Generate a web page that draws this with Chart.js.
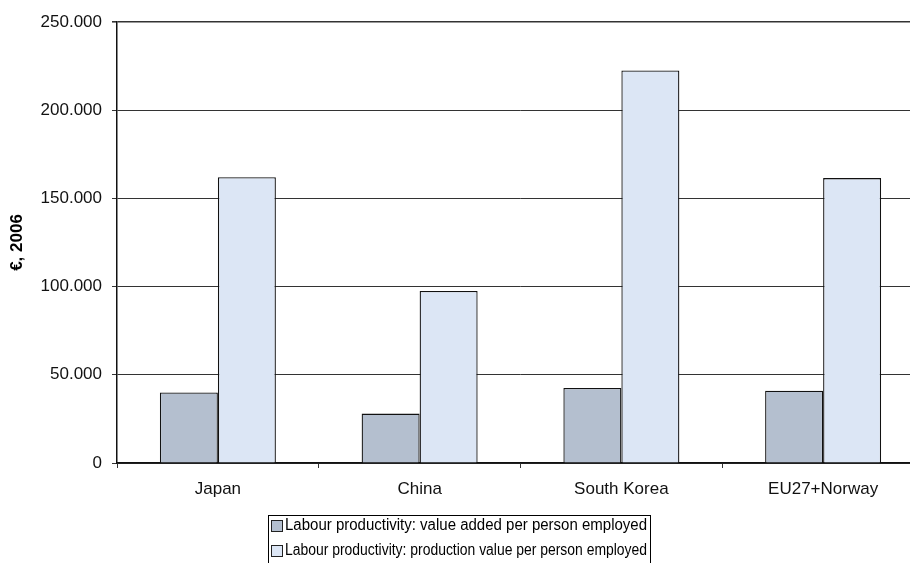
<!DOCTYPE html>
<html>
<head>
<meta charset="utf-8">
<script src="https://cdn.jsdelivr.net/npm/chart.js@4/dist/chart.umd.min.js"></script>
<style>
  html, body { margin: 0; padding: 0; background: #fff; overflow: hidden; }
  #wrap { width: 910px; height: 563px; overflow: hidden; }
</style>
</head>
<body>
<div id="wrap"><canvas id="chart" width="924" height="563"></canvas></div>
<script>
var categories = ["Japan", "China", "South Korea", "EU27+Norway"];
var valueAdded = [40000, 28000, 42500, 41000];
var productionValue = [162000, 97500, 222500, 161500];
var seriesNames = [
    "Labour productivity: value added per person employed",
    "Labour productivity: production value per person employed"
];
var yTicks = [0, 50000, 100000, 150000, 200000, 250000];

Chart.defaults.font.family = "'Liberation Sans', Arial, sans-serif";
Chart.defaults.font.size = 17;
Chart.defaults.color = "#000";

// boxed legend, left aligned like the original
var boxLegend = {
    id: "boxLegend",
    afterDraw: function (chart) {
        var ctx = chart.ctx;
        ctx.save();
        ctx.strokeStyle = "#000";
        ctx.lineWidth = 1;
        ctx.strokeRect(268.5, 515.5, 382, 60);
        ctx.font = "16px 'Liberation Sans', Arial, sans-serif";
        ctx.textBaseline = "middle";
        chart.data.datasets.forEach(function (ds, i) {
            var y = 526 + i * 25;
            ctx.fillStyle = ds.backgroundColor;
            ctx.fillRect(271.5, y - 5.5, 11, 11);
            ctx.strokeStyle = "#222";
            ctx.strokeRect(271.5, y - 5.5, 11, 11);
            ctx.fillStyle = "#000";
            // the original text is condensed so both lines fit the box
            ctx.fillText(ds.label, 285, y, 362);
        });
        ctx.restore();
    }
};

var ctx = document.getElementById("chart");
var myChart = new Chart(ctx, {
    type: "bar",
    data: {
        labels: categories,
        datasets: [
            {
                label: seriesNames[0],
                data: valueAdded,
                backgroundColor: "#b4bfcf",
                borderColor: "#111",
                borderWidth: 1.3,
                categoryPercentage: 0.575,
                barPercentage: 1
            },
            {
                label: seriesNames[1],
                data: productionValue,
                backgroundColor: "#dce6f5",
                borderColor: "#111",
                borderWidth: 1.3,
                categoryPercentage: 0.575,
                barPercentage: 1
            }
        ]
    },
    options: {
        responsive: false,
        animation: false,
        layout: { padding: { top: 22, left: 0, right: 0, bottom: 0 } },
        plugins: {
            legend: { display: false },
            tooltip: { enabled: false }
        },
        scales: {
            x: {
                grid: { drawOnChartArea: false, drawTicks: true, tickLength: 5, color: "#333" },
                border: { color: "#111", width: 1.5 },
                ticks: { padding: 11, color: "#111", maxRotation: 0 },
                afterFit: function (scale) { scale.height = 100; }
            },
            y: {
                min: 0,
                max: 250000,
                afterBuildTicks: function (scale) {
                    scale.ticks = yTicks.map(function (v) { return { value: v }; });
                },
                grid: {
                    color: "#333",
                    lineWidth: function (c) { return c.tick && c.tick.value === 250000 ? 1.6 : 1; },
                    tickLength: 5
                },
                border: { color: "#111", width: 1.5 },
                ticks: {
                    padding: 10,
                    color: "#111",
                    callback: function (v) { return v.toLocaleString("de-DE"); }
                },
                title: {
                    display: true,
                    text: "€, 2006",
                    font: { weight: "bold", size: 17 },
                    padding: { top: 7, bottom: 0 }
                },
                afterFit: function (scale) { scale.width = 117; }
            }
        }
    },
    plugins: [boxLegend]
});
</script>
</body>
</html>
